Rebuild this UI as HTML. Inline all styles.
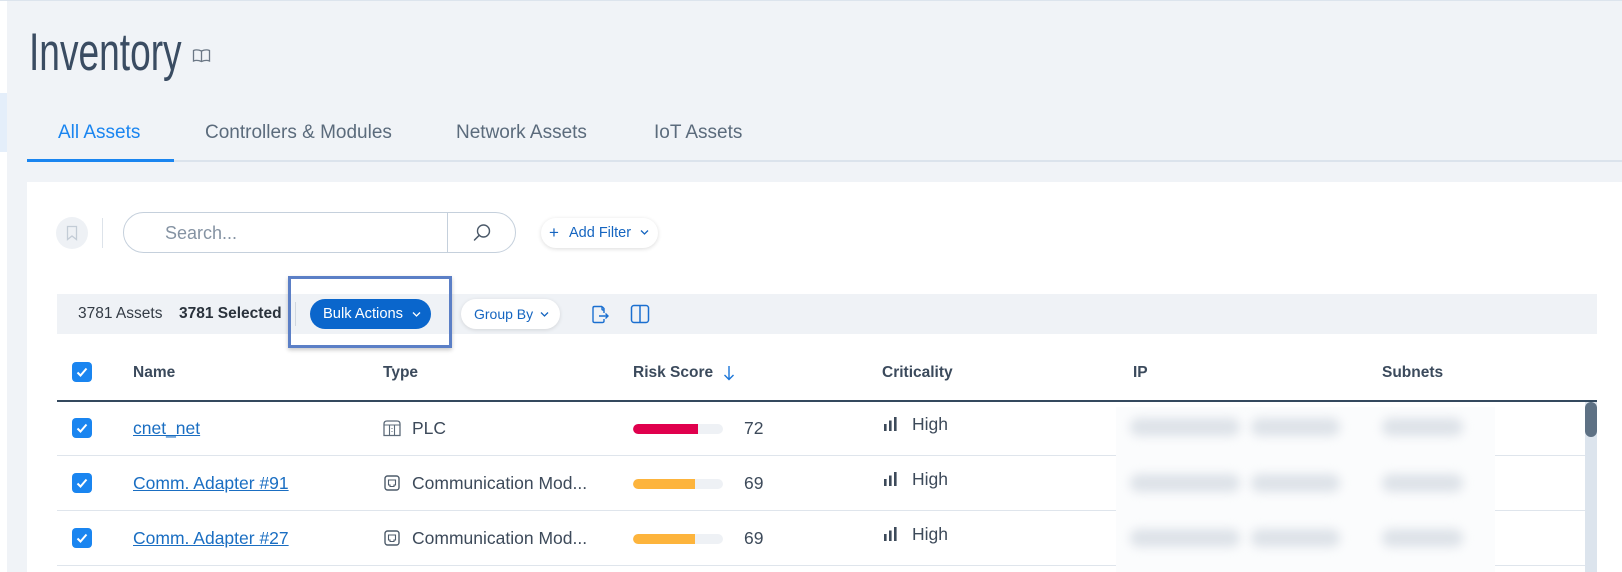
<!DOCTYPE html>
<html><head><meta charset="utf-8"><style>
*{margin:0;padding:0;box-sizing:border-box}
html,body{width:1622px;height:572px;overflow:hidden;background:#f0f3f7;font-family:"Liberation Sans",sans-serif;position:relative}
.a{position:absolute;white-space:nowrap}
.tab{font-size:19px;line-height:24px;top:121px;color:#5b6b7c}
.hd{font-size:15.5px;line-height:20px;top:363px;font-weight:bold;color:#3b4a5c}
.cb{width:20px;height:20px;border-radius:4px;background:#1a85f0}
.rt{font-size:17.5px;line-height:22px;color:#3d4a5a}
.lnk{color:#1a6ec2;text-decoration:underline}
.rl{height:1px;background:#dfe5ec;left:57px;width:1528px}
.bar{left:633px;width:90px;height:10px;border-radius:5px;background:#eef1f5;overflow:hidden}
.blob{background:#dde2e8;height:18px;border-radius:9px;filter:blur(5px)}
</style></head><body>
<div class="a" style="left:0;top:0;width:1622px;height:1px;background:#dce4ed"></div>
<div class="a" style="left:0;top:1px;width:7px;height:571px;background:#fff"></div>
<div class="a" style="left:0;top:93px;width:7px;height:59px;background:#e4eefa"></div>

<div class="a" style="left:29px;top:23px;font-size:53px;line-height:60px;color:#3a4c62;transform:scaleX(0.7);transform-origin:0 0">Inventory</div>
<svg class="a" style="left:192px;top:48px" width="19" height="16" viewBox="0 0 19 16"><path d="M1.5 2.5 Q5 1 9.5 3 Q14 1 17.5 2.5 V13 Q14 11.5 9.5 13.5 Q5 11.5 1.5 13 Z M9.5 3 V13.5" fill="none" stroke="#6b7785" stroke-width="1.3"/></svg>

<div class="a tab" style="left:58px;color:#1a85f0">All Assets</div>
<div class="a tab" style="left:205px">Controllers &amp; Modules</div>
<div class="a tab" style="left:456px">Network Assets</div>
<div class="a tab" style="left:654px">IoT Assets</div>
<div class="a" style="left:27px;top:160px;width:1595px;height:2px;background:#dbe3ec"></div>
<div class="a" style="left:27px;top:159px;width:147px;height:3px;background:#1a85f0"></div>

<div class="a" style="left:27px;top:182px;width:1595px;height:390px;background:#fff"></div>

<div class="a" style="left:56px;top:217px;width:32px;height:32px;border-radius:16px;background:#eef1f5"></div>
<svg class="a" style="left:66px;top:225px" width="12" height="16" viewBox="0 0 12 16"><path d="M1.5 1.5 H10.5 V14.5 L6 11 L1.5 14.5 Z" fill="none" stroke="#c3ccd6" stroke-width="1.3"/></svg>
<div class="a" style="left:102px;top:218px;width:1px;height:30px;background:#dde3ea"></div>

<div class="a" style="left:123px;top:212px;width:393px;height:41px;border:1px solid #c5d0dc;border-radius:21px;background:#fff"></div>
<div class="a" style="left:447px;top:213px;width:1px;height:39px;background:#c5d0dc"></div>
<div class="a" style="left:165px;top:222px;font-size:18px;line-height:22px;color:#8593a3">Search...</div>
<svg class="a" style="left:472px;top:223px" width="20" height="20" viewBox="0 0 20 20"><circle cx="11.5" cy="8" r="6" fill="none" stroke="#4a5868" stroke-width="1.4"/><path d="M7.3 12.2 L2.5 17" stroke="#4a5868" stroke-width="1.5" stroke-linecap="round"/></svg>

<div class="a" style="left:541px;top:218px;width:117px;height:30px;border-radius:15px;background:#fff;box-shadow:0 1px 4px rgba(0,0,0,.14)"></div>
<div class="a" style="left:549px;top:222px;font-size:17px;line-height:22px;color:#1565c0">+</div>
<div class="a" style="left:569px;top:224px;font-size:14.5px;line-height:18px;color:#1565c0">Add Filter</div>
<svg class="a" style="left:640px;top:229px" width="9" height="7" viewBox="0 0 9 7"><path d="M1 1.5 L4.5 5 L8 1.5" fill="none" stroke="#1565c0" stroke-width="1.3"/></svg>

<div class="a" style="left:57px;top:294px;width:1540px;height:40px;background:#eff2f6"></div>
<div class="a" style="left:78px;top:304px;font-size:15.5px;line-height:20px;color:#333b45">3781 Assets</div>
<div class="a" style="left:179px;top:304px;font-size:15.5px;line-height:20px;color:#2a323c;font-weight:bold">3781 Selected</div>
<div class="a" style="left:295px;top:302px;width:1px;height:24px;background:#d0d7df"></div>
<div class="a" style="left:310px;top:299px;width:121px;height:30px;border-radius:15px;background:#0a66cc"></div>
<div class="a" style="left:323px;top:305px;font-size:14.7px;line-height:18px;color:#fff">Bulk Actions</div>
<svg class="a" style="left:412px;top:311px" width="9" height="7" viewBox="0 0 9 7"><path d="M1 1.5 L4.5 5 L8 1.5" fill="none" stroke="#fff" stroke-width="1.3"/></svg>
<div class="a" style="left:288px;top:276px;width:164px;height:72px;border:3px solid #5b7fc6;box-shadow:0 2px 4px rgba(0,0,0,.22)"></div>

<div class="a" style="left:461px;top:299px;width:99px;height:30px;border-radius:15px;background:#fff;box-shadow:0 1px 4px rgba(0,0,0,.12)"></div>
<div class="a" style="left:474px;top:305px;font-size:14px;line-height:18px;color:#1565c0">Group By</div>
<svg class="a" style="left:540px;top:311px" width="9" height="7" viewBox="0 0 9 7"><path d="M1 1.5 L4.5 5 L8 1.5" fill="none" stroke="#1565c0" stroke-width="1.3"/></svg>
<svg class="a" style="left:591px;top:305px" width="19" height="19" viewBox="0 0 19 19"><path d="M11 1.5 H3.5 Q2 1.5 2 3 V16 Q2 17.5 3.5 17.5 H11.5 Q13 17.5 13 16 V14 M11 1.5 L13 3.5 V8 M11 1.5 V4 Q11 5 12 5 H13" fill="none" stroke="#1a6fd0" stroke-width="1.4"/><path d="M8 11 H17 M14.5 8.5 L17 11 L14.5 13.5" fill="none" stroke="#1a6fd0" stroke-width="1.4"/></svg>
<svg class="a" style="left:630px;top:304px" width="20" height="20" viewBox="0 0 20 20"><rect x="1.5" y="1.5" width="17" height="17" rx="2.5" fill="none" stroke="#1a6fd0" stroke-width="1.5"/><path d="M10 1.5 V18.5" stroke="#1a6fd0" stroke-width="1.5"/></svg>

<div class="a cb" style="left:72px;top:362px"></div>
<svg class="a" style="left:72px;top:362px" width="20" height="20" viewBox="0 0 20 20"><path d="M5.5 10.5 L8.5 13.5 L14.5 6.5" fill="none" stroke="#fff" stroke-width="2"/></svg>
<div class="a hd" style="left:133px">Name</div>
<div class="a hd" style="left:383px">Type</div>
<div class="a hd" style="left:633px">Risk Score</div>
<svg class="a" style="left:723px;top:365px" width="12" height="16" viewBox="0 0 12 16"><path d="M6 1 V14.5 M1.5 10 L6 14.5 L10.5 10" fill="none" stroke="#1a75d8" stroke-width="1.4"/></svg>
<div class="a hd" style="left:882px">Criticality</div>
<div class="a hd" style="left:1133px">IP</div>
<div class="a hd" style="left:1382px">Subnets</div>
<div class="a" style="left:57px;top:400px;width:1540px;height:2px;background:#34495e"></div>

<div class="a rl" style="top:455px"></div>
<div class="a rl" style="top:510px"></div>
<div class="a rl" style="top:565px"></div>

<!-- row 1 -->
<div class="a cb" style="left:72px;top:418px"></div>
<svg class="a" style="left:72px;top:418px" width="20" height="20" viewBox="0 0 20 20"><path d="M5.5 10.5 L8.5 13.5 L14.5 6.5" fill="none" stroke="#fff" stroke-width="2"/></svg>
<div class="a rt lnk" style="left:133px;top:417px">cnet_net</div>
<svg class="a" style="left:383px;top:420px" width="18" height="17" viewBox="0 0 18 17"><path d="M1 15.5 V4 Q1 1 4 1 H14 Q17 1 17 4 V15.5 Z" fill="none" stroke="#5d6b7a" stroke-width="1.3"/><path d="M1 5 H17 M6.5 5 V15.5 M11.5 5 V15.5" stroke="#5d6b7a" stroke-width="1.1"/><path d="M9 8 V9 M9 11 V12" stroke="#5d6b7a" stroke-width="1"/></svg>
<div class="a rt" style="left:412px;top:417px">PLC</div>
<div class="a bar" style="top:424px"><div style="width:65px;height:10px;background:#e0004d;border-radius:5px 0 0 5px"></div></div>
<div class="a rt" style="left:744px;top:417px">72</div>

<!-- row 2 -->
<div class="a cb" style="left:72px;top:473px"></div>
<svg class="a" style="left:72px;top:473px" width="20" height="20" viewBox="0 0 20 20"><path d="M5.5 10.5 L8.5 13.5 L14.5 6.5" fill="none" stroke="#fff" stroke-width="2"/></svg>
<div class="a rt lnk" style="left:133px;top:472px">Comm. Adapter #91</div>
<svg class="a" style="left:384px;top:475px" width="16" height="16" viewBox="0 0 16 16"><rect x="1" y="1" width="14" height="14" rx="2.5" fill="none" stroke="#4d5b6a" stroke-width="1.4"/><path d="M4.5 5 H11.5 V10 H10 V11.5 H6 V10 H4.5 Z" fill="none" stroke="#4d5b6a" stroke-width="1.1"/></svg>
<div class="a rt" style="left:412px;top:472px">Communication Mod...</div>
<div class="a bar" style="top:479px"><div style="width:62px;height:10px;background:#fdb43c;border-radius:5px 0 0 5px"></div></div>
<div class="a rt" style="left:744px;top:472px">69</div>

<!-- row 3 -->
<div class="a cb" style="left:72px;top:528px"></div>
<svg class="a" style="left:72px;top:528px" width="20" height="20" viewBox="0 0 20 20"><path d="M5.5 10.5 L8.5 13.5 L14.5 6.5" fill="none" stroke="#fff" stroke-width="2"/></svg>
<div class="a rt lnk" style="left:133px;top:527px">Comm. Adapter #27</div>
<svg class="a" style="left:384px;top:530px" width="16" height="16" viewBox="0 0 16 16"><rect x="1" y="1" width="14" height="14" rx="2.5" fill="none" stroke="#4d5b6a" stroke-width="1.4"/><path d="M4.5 5 H11.5 V10 H10 V11.5 H6 V10 H4.5 Z" fill="none" stroke="#4d5b6a" stroke-width="1.1"/></svg>
<div class="a rt" style="left:412px;top:527px">Communication Mod...</div>
<div class="a bar" style="top:534px"><div style="width:62px;height:10px;background:#fdb43c;border-radius:5px 0 0 5px"></div></div>
<div class="a rt" style="left:744px;top:527px">69</div>

<!-- criticality -->
<svg class="a" style="left:884px;top:417px" width="15" height="14" viewBox="0 0 15 14"><rect x="0" y="7" width="2.6" height="7" fill="#3d4a5a"/><rect x="5" y="3.5" width="2.6" height="10.5" fill="#3d4a5a"/><rect x="10" y="0" width="2.6" height="14" fill="#3d4a5a"/></svg>
<div class="a rt" style="left:912px;top:413px">High</div>
<svg class="a" style="left:884px;top:472px" width="15" height="14" viewBox="0 0 15 14"><rect x="0" y="7" width="2.6" height="7" fill="#3d4a5a"/><rect x="5" y="3.5" width="2.6" height="10.5" fill="#3d4a5a"/><rect x="10" y="0" width="2.6" height="14" fill="#3d4a5a"/></svg>
<div class="a rt" style="left:912px;top:468px">High</div>
<svg class="a" style="left:884px;top:527px" width="15" height="14" viewBox="0 0 15 14"><rect x="0" y="7" width="2.6" height="7" fill="#3d4a5a"/><rect x="5" y="3.5" width="2.6" height="10.5" fill="#3d4a5a"/><rect x="10" y="0" width="2.6" height="14" fill="#3d4a5a"/></svg>
<div class="a rt" style="left:912px;top:523px">High</div>

<!-- blurred area -->
<div class="a" style="left:1116px;top:407px;width:379px;height:165px;background:#fbfcfd"></div>
<div class="a blob" style="left:1130px;top:418px;width:110px"></div>
<div class="a blob" style="left:1251px;top:418px;width:89px"></div>
<div class="a blob" style="left:1382px;top:418px;width:81px"></div>
<div class="a blob" style="left:1130px;top:474px;width:110px"></div>
<div class="a blob" style="left:1251px;top:474px;width:89px"></div>
<div class="a blob" style="left:1382px;top:474px;width:81px"></div>
<div class="a blob" style="left:1130px;top:529px;width:110px"></div>
<div class="a blob" style="left:1251px;top:529px;width:89px"></div>
<div class="a blob" style="left:1382px;top:529px;width:81px"></div>

<!-- scrollbar -->
<div class="a" style="left:1585px;top:402px;width:12px;height:170px;background:#dce4ed"></div>
<div class="a" style="left:1585px;top:402px;width:12px;height:35px;border-radius:6px;background:#5e7184"></div>
</body></html>
